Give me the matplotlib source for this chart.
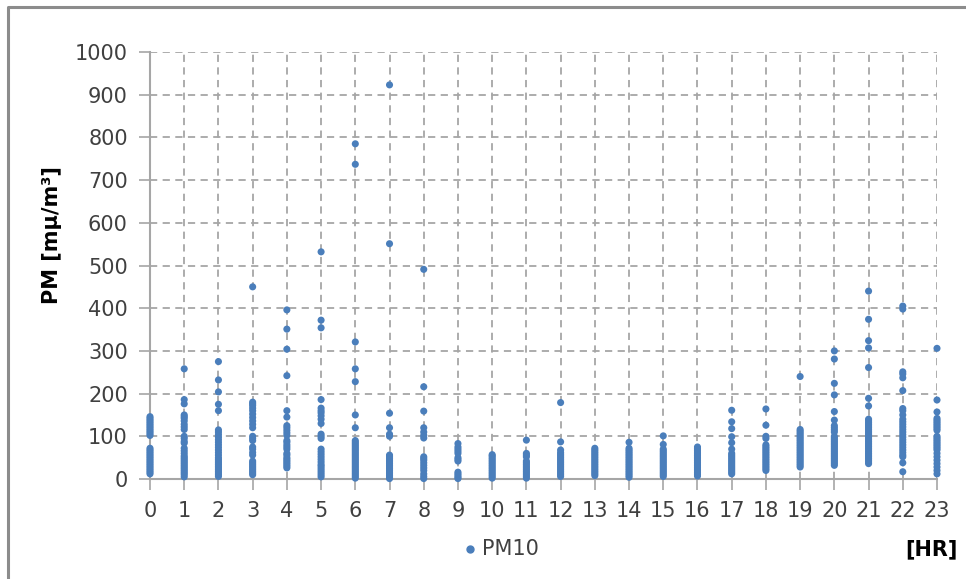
import matplotlib
matplotlib.use("Agg")
import matplotlib.pyplot as plt
from matplotlib.lines import Line2D

plt.rcParams['font.family'] = ['DejaVu Sans']

hours = list(range(24))
pm10 = {
    0: [146,142,138,134,130,126,122,118,114,110,106,102,72,68,64,60,56,52,48,44,40,36,32,28,24,20,16,12],
    1: [258,186,176,150,146,142,136,128,122,116,100,95,88,84,72,66,60,54,50,46,42,38,34,30,26,22,18,14,10,5],
    2: [275,232,204,175,160,115,110,104,98,92,86,80,74,68,62,56,50,46,42,38,34,30,26,22,18,14,10,6],
    3: [450,180,176,172,166,160,152,144,136,128,120,100,95,90,75,70,62,56,42,38,34,30,26,22,18,14,10],
    4: [396,351,304,242,160,145,125,120,114,108,102,90,86,80,75,70,60,56,50,46,42,38,34,30,26],
    5: [532,372,354,186,166,160,155,148,140,130,105,100,95,70,64,58,52,46,40,34,30,25,20,15,10,5],
    6: [785,737,321,258,228,150,120,90,86,82,78,74,70,66,62,58,54,50,46,42,38,34,30,26,22,18,14,10,6,2],
    7: [923,551,154,120,105,100,56,52,48,44,40,36,32,28,24,20,16,12,8,4,1],
    8: [491,216,159,120,110,102,96,52,48,44,38,32,26,20,12,6,1],
    9: [83,75,70,65,60,50,46,42,16,12,8,4,1],
    10: [57,54,50,46,42,38,34,30,26,22,18,14,10,6,2],
    11: [91,60,56,52,42,38,34,30,26,22,18,14,10,6,2],
    12: [179,87,68,62,58,54,50,46,42,38,34,30,26,22,18,14,10,6],
    13: [72,68,64,60,56,52,48,44,40,36,32,28,24,20,16,12,8],
    14: [86,72,68,64,60,56,52,48,44,40,36,32,28,24,20,16,12,8,4],
    15: [101,81,70,66,62,58,54,50,46,42,38,34,30,26,22,18,14,10,6],
    16: [75,71,67,63,59,55,51,47,43,39,35,31,27,23,19,15,11,7],
    17: [161,134,118,99,85,70,60,56,52,48,44,40,36,32,28,24,20,16,12],
    18: [164,126,100,95,80,76,72,68,64,60,56,52,48,44,40,36,32,28,24,20],
    19: [240,116,112,108,104,100,96,92,88,84,80,76,72,68,64,60,56,52,48,44,40,36,32,28],
    20: [300,281,224,197,158,138,125,120,115,110,100,96,92,88,84,80,76,72,68,64,60,56,52,48,44,40,36,32],
    21: [440,374,324,307,261,189,171,140,136,132,128,124,120,116,112,108,104,100,96,92,88,84,80,76,72,68,64,60,56,52,48,44,40,36],
    22: [405,398,251,246,237,207,165,160,150,140,134,128,122,116,110,104,98,92,86,80,74,68,62,56,52,38,17],
    23: [306,185,157,142,138,134,130,126,122,118,114,100,96,92,88,84,80,76,72,68,60,52,44,36,28,20,12],
}
y_ticks = list(range(0, 1001, 100))
series_name = "PM10"
y_label = "PM [mμ/m³]"
x_label = "[HR]"

blue = "#4A7EBB"
grid_c = "#A6A6A6"
txt_c = "#404040"

fig = plt.figure(figsize=(9.66, 5.79), dpi=100)
ax = fig.add_axes([150/966, 1-479/579, (937-150)/966, (479-52)/579])

xs, ys = [], []
for h in hours:
    for v in pm10[h]:
        xs.append(h)
        ys.append(v)
ax.scatter(xs, ys, s=26, color=blue, edgecolors='none', zorder=3, clip_on=False)

ax.set_xlim(0, 23)
ax.set_ylim(0, 1000)
ax.set_xticks(hours)
ax.set_yticks(y_ticks)
ax.grid(True, color=grid_c, linestyle=(0, (4, 3)), linewidth=1.3)
ax.set_axisbelow(True)
for s in ['top', 'right']:
    ax.spines[s].set_visible(False)
for s in ['left', 'bottom']:
    ax.spines[s].set_color(grid_c)
    ax.spines[s].set_linewidth(1.5)
ax.tick_params(axis='both', direction='out', length=8, width=1.2, color=grid_c,
               labelsize=15, labelcolor=txt_c, pad=8)
ax.tick_params(axis='x', pad=8)

fig.text(52/966, 1-235/579, y_label, rotation=90, ha='center', va='center',
         fontsize=15, fontweight='bold', color='black')
fig.text(958/966, 1-549/579, x_label, ha='right', va='center',
         fontsize=15, fontweight='bold', color='black')

# legend
fig.lines.append(Line2D([470/966], [1-549/579], marker='o', markersize=5,
                        color=blue, linestyle='none', transform=fig.transFigure))
fig.text(482/966, 1-549/579, series_name, ha='left', va='center',
         fontsize=15, color=txt_c)

# outer chart border (left and top visible)
fig.lines.append(Line2D([8/966, 8/966, 1.0], [0.0, 1-7/579, 1-7/579],
                        color="#8C8C8C", linewidth=2.2, transform=fig.transFigure))

fig.savefig("out.png", dpi=100)
